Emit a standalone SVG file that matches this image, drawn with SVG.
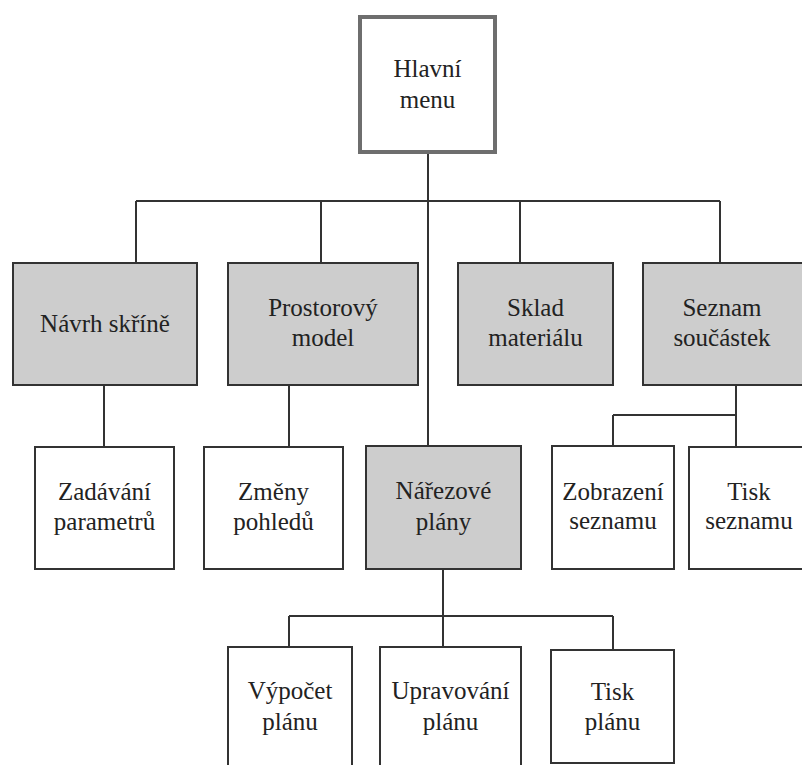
<svg xmlns="http://www.w3.org/2000/svg" width="802" height="765" viewBox="0 0 802 765">
<style>
.box{fill:#ffffff;stroke:#333333;stroke-width:2}
.gray{fill:#cdcdcd;stroke:#333333;stroke-width:2}
.root{fill:#ffffff;stroke:#6e6e6e;stroke-width:4}
.lbl{font-family:'Liberation Serif','Times New Roman','DejaVu Serif','Noto Serif',serif;font-size:25px;fill:#222222;text-anchor:middle}
.con{fill:none;stroke:#333333;stroke-width:2}
</style>
<rect width="802" height="765" fill="#ffffff"/>
<g id="connectors">
<path class="con" d="M428,154 V446"/>
<path class="con" d="M136,201 H720 M136,201 V263 M321,201 V263 M520,201 V263 M720,201 V263"/>
<path class="con" d="M104,385 V447 M289,385 V447"/>
<path class="con" d="M736,385 V447 M613,415 H736 M613,415 V446"/>
<path class="con" d="M443,569 V647 M289,616 H613 M289,616 V647 M613,616 V650"/>
</g>
<g id="hlavni-menu" font-family="Liberation Serif, serif">
<rect class="root" x="360" y="17" width="135" height="135"/>
<text class="lbl" x="427.5" y="77">Hlavní</text>
<text class="lbl" x="427.5" y="108">menu</text>
</g>
<g id="navrh-skrine">
<rect class="gray" x="13" y="263" width="184" height="122"/>
<text class="lbl" x="105" y="332">Návrh skříně</text>
</g>
<g id="prostorovy-model">
<rect class="gray" x="228" y="263" width="190" height="122"/>
<text class="lbl" x="323" y="316">Prostorový</text>
<text class="lbl" x="323" y="346">model</text>
</g>
<g id="sklad-materialu">
<rect class="gray" x="458" y="263" width="155" height="122"/>
<text class="lbl" x="535.5" y="316">Sklad</text>
<text class="lbl" x="535.5" y="346">materiálu</text>
</g>
<g id="seznam-soucastek">
<rect class="gray" x="643" y="263" width="170" height="122"/>
<text class="lbl" x="722" y="316">Seznam</text>
<text class="lbl" x="722" y="346">součástek</text>
</g>
<g id="zadavani-parametru">
<rect class="box" x="35" y="447" width="139" height="122"/>
<text class="lbl" x="104.5" y="500">Zadávání</text>
<text class="lbl" x="104.5" y="530">parametrů</text>
</g>
<g id="zmeny-pohledu">
<rect class="box" x="204" y="447" width="139" height="122"/>
<text class="lbl" x="273.5" y="500">Změny</text>
<text class="lbl" x="273.5" y="530">pohledů</text>
</g>
<g id="narezove-plany">
<rect class="gray" x="366" y="446" width="155" height="123"/>
<text class="lbl" x="443.5" y="499">Nářezové</text>
<text class="lbl" x="443.5" y="530">plány</text>
</g>
<g id="zobrazeni-seznamu">
<rect class="box" x="552" y="446" width="122" height="123"/>
<text class="lbl" x="613" y="500">Zobrazení</text>
<text class="lbl" x="613" y="529">seznamu</text>
</g>
<g id="tisk-seznamu">
<rect class="box" x="689" y="447" width="124" height="122"/>
<text class="lbl" x="749" y="500">Tisk</text>
<text class="lbl" x="749" y="529">seznamu</text>
</g>
<g id="vypocet-planu">
<rect class="box" x="228" y="647" width="124" height="125"/>
<text class="lbl" x="290" y="699">Výpočet</text>
<text class="lbl" x="290" y="730">plánu</text>
</g>
<g id="upravovani-planu">
<rect class="box" x="380" y="647" width="141" height="125"/>
<text class="lbl" x="450.5" y="699">Upravování</text>
<text class="lbl" x="450.5" y="730">plánu</text>
</g>
<g id="tisk-planu">
<rect class="box" x="551" y="650" width="123" height="113"/>
<text class="lbl" x="612.5" y="700">Tisk</text>
<text class="lbl" x="612.5" y="730">plánu</text>
</g>
</svg>
